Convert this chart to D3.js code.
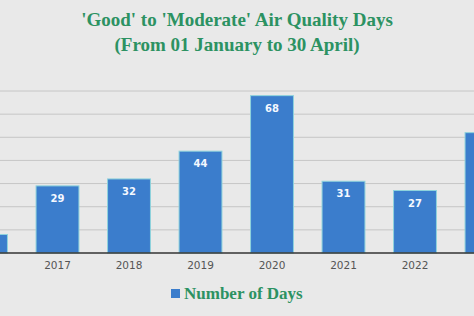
<!DOCTYPE html>
<html>
<head>
<meta charset="utf-8">
<script src="https://cdn.jsdelivr.net/npm/d3@7"></script>
<style>
  body { margin: 0; background: #e9e9e9; }
  svg { display: block; }
</style>
</head>
<body>
<div id="vis"></div>
<script>
var w = 474,
    h = 316;

// data (2016 and 2023 are cut off at the edges)
var years = ["2016", "2017", "2018", "2019", "2020", "2021", "2022", "2023"];
var days = [8, 29, 32, 44, 68, 31, 27, 52];
var yTicks = [0, 10, 20, 30, 40, 50, 60, 70];
var titleLines = ["'Good' to 'Moderate' Air Quality Days", "(From 01 January to 30 April)"];
var legendLabel = "Number of Days";

var svg = d3.select("#vis").append("svg")
    .attr("width", w)
    .attr("height", h);

svg.append("rect")
    .attr("width", w)
    .attr("height", h)
    .attr("fill", "#e9e9e9");

// band scale runs past both edges so the first and last bars get clipped
var x = d3.scaleBand()
    .domain(years)
    .range([-49.75, 522.25])
    .paddingInner(0.4)
    .paddingOuter(0.2);

var y = d3.scaleLinear()
    .domain([0, 70])
    .range([253, 91]);

// only years whose label sits inside the window
var shown = years.filter(function(d) {
  var c = x(d) + x.bandwidth() / 2;
  return c > 20 && c < w - 20;
});

// gridlines
svg.append("g").selectAll("line")
    .data(yTicks.slice(1))
  .enter().append("line")
    .attr("x1", 0)
    .attr("x2", w)
    .attr("y1", function(d) { return y(d); })
    .attr("y2", function(d) { return y(d); })
    .attr("stroke", "#c6c6c6")
    .attr("stroke-width", 1);

// bars
var bars = svg.append("g");
bars.selectAll("rect")
    .data(days)
  .enter().append("rect")
    .attr("x", function(d, i) { return x(years[i]); })
    .attr("y", function(d) { return y(d); })
    .attr("width", x.bandwidth())
    .attr("height", function(d) { return y(0) - y(d); })
    .attr("fill", "#3b7dcc")
    .attr("stroke", "#8fd3dc")
    .attr("stroke-width", 1);

bars.selectAll("text")
    .data(days)
  .enter().append("text")
    .attr("x", function(d, i) { return x(years[i]) + x.bandwidth() / 2; })
    .attr("y", function(d) { return y(d) + 16; })
    .attr("text-anchor", "middle")
    .attr("font-family", "DejaVu Sans, sans-serif")
    .attr("font-weight", "bold")
    .attr("font-size", 10)
    .attr("fill", "#f4f8ff")
    .text(function(d, i) { return shown.indexOf(years[i]) < 0 ? "" : d; });

// x axis
var xAxis = svg.append("g")
    .attr("transform", "translate(0," + y(0) + ")")
    .call(d3.axisBottom(x).tickValues(shown).tickSize(0).tickPadding(9));
xAxis.select(".domain")
    .attr("d", "M0,0H" + w)
    .attr("stroke", "#333")
    .attr("stroke-width", 1.5);
xAxis.selectAll("text")
    .attr("font-family", "DejaVu Sans, sans-serif")
    .attr("font-size", 10.5)
    .attr("fill", "#555");

// title
svg.append("g").selectAll("text")
    .data(titleLines)
  .enter().append("text")
    .attr("x", 237)
    .attr("y", function(d, i) { return 26 + i * 25; })
    .attr("text-anchor", "middle")
    .attr("font-family", "Liberation Serif, serif")
    .attr("font-weight", "bold")
    .attr("font-size", 19)
    .attr("fill", "#2c9262")
    .text(function(d) { return d; });

// legend
var legend = svg.append("g");
legend.append("rect")
    .attr("x", 171)
    .attr("y", 289)
    .attr("width", 9)
    .attr("height", 9)
    .attr("fill", "#3b7dcc");
legend.append("text")
    .attr("x", 184)
    .attr("y", 299)
    .attr("font-family", "Liberation Serif, serif")
    .attr("font-weight", "bold")
    .attr("font-size", 17)
    .attr("fill", "#2c9262")
    .text(legendLabel);
</script>
</body>
</html>
